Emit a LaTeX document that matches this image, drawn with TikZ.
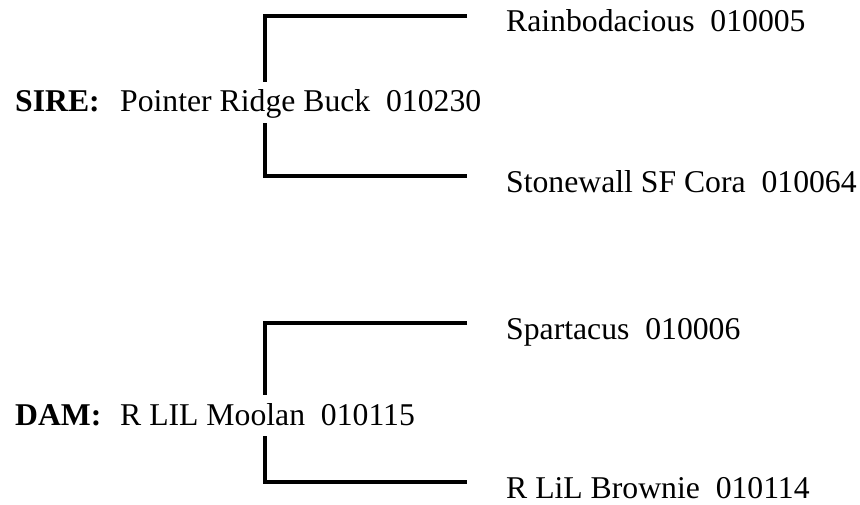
\documentclass[tikz,border=0pt]{standalone}
\usepackage{fontspec}
\setmainfont{Liberation Serif}
\tikzset{
  mytxt/.style={anchor=base west,inner sep=0pt,font=\fontsize{31.7}{38}\selectfont},
  mylbl/.style={mytxt,font=\fontsize{31.7}{38}\selectfont\bfseries},
  namebox/.style={mytxt,text height=24pt,text depth=5pt,inner ysep=6pt},
  bracket/.style={draw=black,line width=4pt,line cap=butt,line join=miter}}
\begin{document}
\begin{tikzpicture}[x=1pt,y=-1pt]
\useasboundingbox (0,0) rectangle (860,505);
% SIRE
\node[mylbl] (sirelbl) at (15,112) {SIRE:};
\node[namebox] (sire) at (120,112) {Pointer Ridge Buck\hspace{0.5em}010230};
\node[mytxt] (s1) at (506,32) {Rainbodacious\hspace{0.5em}010005};
\node[mytxt] (s2) at (506,193) {Stonewall SF Cora\hspace{0.5em}010064};
\coordinate (s1end) at (467,16);
\coordinate (s2end) at (467,176);
\coordinate (sx) at (265,0);
\draw[bracket] (s1end) -- (s1end -| sx) -- (sire.north -| sx);
\draw[bracket] (sire.south -| sx) -- (s2end -| sx) -- (s2end);
% DAM
\node[mylbl] (damlbl) at (15,425) {DAM:};
\node[namebox] (dam) at (120,425) {R LIL Moolan\hspace{0.5em}010115};
\node[mytxt] (d1) at (506,339) {Spartacus\hspace{0.5em}010006};
\node[mytxt] (d2) at (506,498) {R LiL Brownie\hspace{0.5em}010114};
\coordinate (d1end) at (467,323);
\coordinate (d2end) at (467,482);
\draw[bracket] (d1end) -- (d1end -| sx) -- (dam.north -| sx);
\draw[bracket] (dam.south -| sx) -- (d2end -| sx) -- (d2end);
\end{tikzpicture}
\end{document}
